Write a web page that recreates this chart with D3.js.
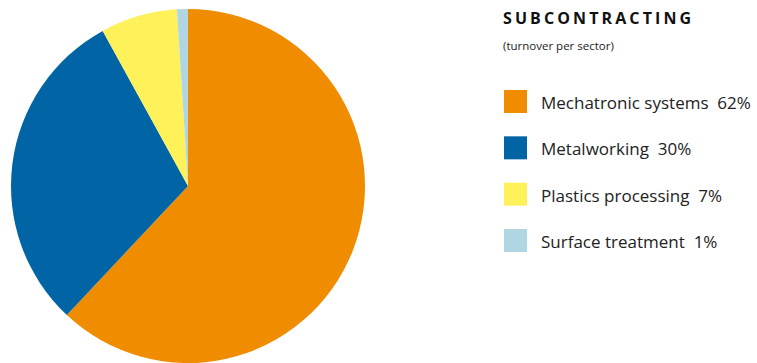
<!DOCTYPE html>
<html>
<head>
<meta charset="utf-8">
<script src="https://cdn.jsdelivr.net/npm/d3@7"></script>
<style>
  html, body { margin: 0; padding: 0; background: #fff; }
  svg { display: block; }
</style>
</head>
<body>
<svg id="chart" width="757" height="363"></svg>
<script>
// Turnover per sector, subcontracting
const sectors = ["Mechatronic systems", "Metalworking", "Plastics processing", "Surface treatment"];
const shares = [62, 30, 7, 1];
const colors = ["#F08C00", "#0064A5", "#FFF15A", "#B0D6E3"];

const svg = d3.select("#chart");
const font = "'Open Sans', 'DejaVu Sans', sans-serif";

const cx = 188, cy = 186, r = 177;

const pie = d3.pie().sort(null).value(d => d.value);
const arc = d3.arc().innerRadius(0).outerRadius(r);
const data = sectors.map((s, i) => ({ name: s, value: shares[i], color: colors[i] }));

svg.append("g")
  .attr("transform", `translate(${cx},${cy})`)
  .selectAll("path")
  .data(pie(data))
  .join("path")
  .attr("d", arc)
  .attr("fill", d => d.data.color);

// Title block
svg.append("text")
  .attr("x", 503).attr("y", 24)
  .attr("font-family", font)
  .attr("font-weight", "bold")
  .attr("font-size", 16)
  .attr("letter-spacing", 3.1)
  .attr("fill", "#111")
  .text("SUBCONTRACTING");

svg.append("text")
  .attr("x", 503).attr("y", 50)
  .attr("font-family", font)
  .attr("font-size", 11.5)
  .attr("fill", "#222")
  .text("(turnover per sector)");

// Legend
const legend = svg.append("g");
const rowY = d3.scaleLinear().domain([0, 3]).range([101, 240]);
const rows = legend.selectAll("g").data(data).join("g")
  .attr("transform", (d, i) => `translate(504,${rowY(i)})`);
rows.append("rect")
  .attr("x", 0).attr("y", -11)
  .attr("width", 23).attr("height", 23)
  .attr("fill", d => d.color);
rows.append("text")
  .attr("x", 37).attr("y", 8)
  .attr("font-family", font)
  .attr("font-size", 17)
  .attr("fill", "#222")
  .text(d => `${d.name}\u00a0\u00a0${d.value}%`);
</script>
</body>
</html>
